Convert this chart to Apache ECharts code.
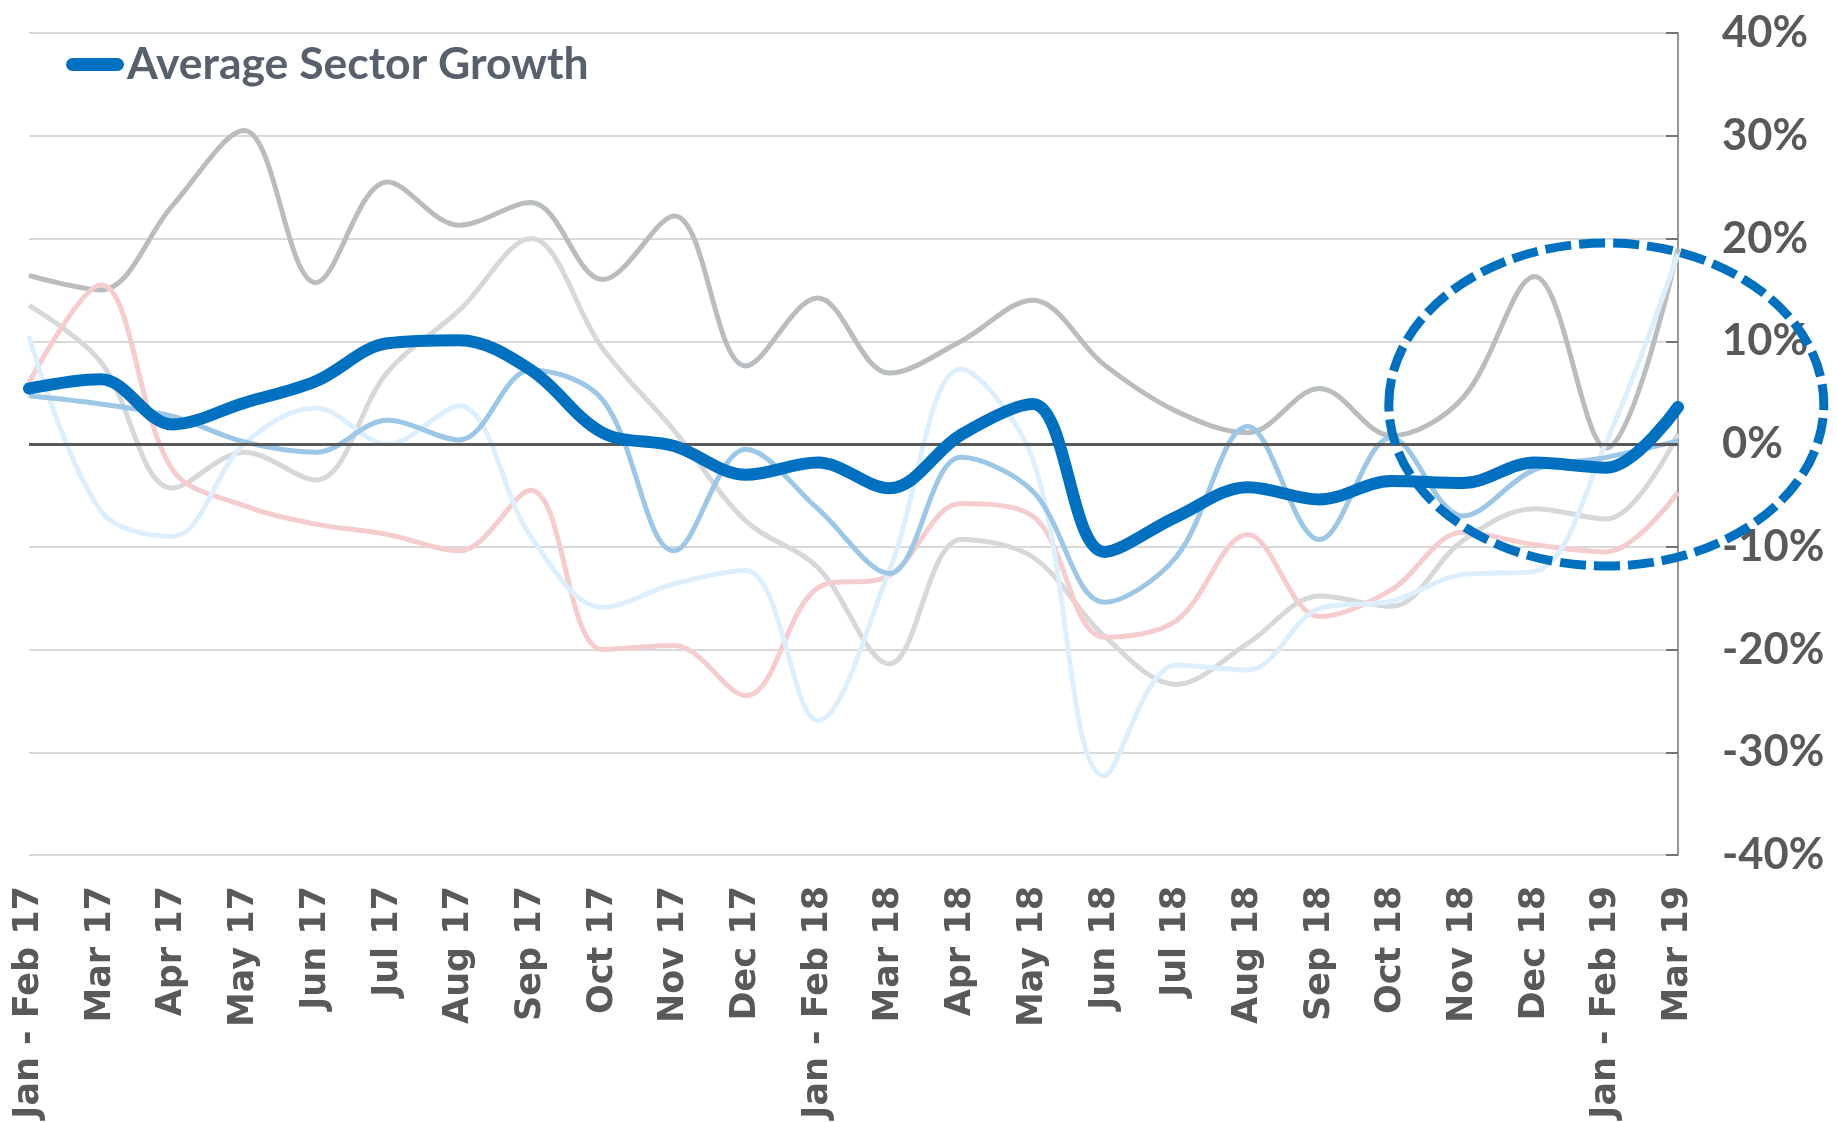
<!DOCTYPE html>
<html>
<head>
<meta charset="utf-8">
<script src="https://cdn.jsdelivr.net/npm/echarts@6/dist/echarts.min.js"></script>
<style>
  html, body { margin: 0; padding: 0; background: #fff; }
  #chart { width: 1837px; height: 1122px; }
</style>
</head>
<body>
<div id="chart"></div>
<script>
var months = ['Jan - Feb 17', 'Mar 17', 'Apr 17', 'May 17', 'Jun 17', 'Jul 17', 'Aug 17', 'Sep 17',
  'Oct 17', 'Nov 17', 'Dec 17', 'Jan - Feb 18', 'Mar 18', 'Apr 18', 'May 18', 'Jun 18', 'Jul 18',
  'Aug 18', 'Sep 18', 'Oct 18', 'Nov 18', 'Dec 18', 'Jan - Feb 19', 'Mar 19'];

// growth in %
var avgGrowth = [5.4, 6.3, 1.9, 4.0, 6.1, 9.8, 10.1, 7.2, 1.1, -0.2, -3.0, -1.8, -4.3, 0.9, 3.9,
  -10.5, -7.1, -4.2, -5.4, -3.6, -3.8, -1.8, -2.3, 3.6];
var sectorDarkGrey = [16.4, 15.0, 23.2, 30.5, 15.7, 25.5, 21.3, 23.5, 16.0, 22.2, 7.6, 14.2, 6.9,
  10.0, 14.0, 7.7, 3.2, 1.1, 5.4, 0.8, 4.5, 16.3, -0.4, 19.0];
var sectorLightGrey = [13.5, 8.0, -4.3, -0.8, -3.5, 7.0, 13.0, 20.0, 9.3, 1.3, -7.5, -12.0, -21.4,
  -9.3, -11.0, -18.7, -23.4, -19.4, -14.8, -15.8, -9.4, -6.3, -7.3, 1.0];
var sectorPink = [6.0, 15.5, -2.5, -6.0, -7.8, -8.8, -10.4, -4.5, -20.0, -19.6, -24.5, -14.0, -12.8,
  -5.8, -7.0, -18.8, -17.2, -8.8, -16.8, -14.2, -8.6, -9.8, -10.5, -4.7];
var sectorPaleBlue = [10.5, -6.5, -9.0, 0.0, 3.5, 0.0, 3.7, -9.0, -15.9, -13.6, -12.3, -26.9, -12.3,
  7.3, -1.5, -32.3, -21.5, -22.0, -16.0, -15.3, -12.7, -12.4, 0.2, 18.5];
var sectorMidBlue = [4.7, 3.9, 2.7, 0.2, -0.8, 2.3, 0.4, 7.2, 4.3, -10.4, -0.5, -6.3, -12.6, -1.3,
  -4.6, -15.4, -11.0, 1.7, -9.3, 0.6, -7.0, -2.5, -1.3, 0.3];

var chart = echarts.init(document.getElementById('chart'));

function thinLine(name, data, color) {
  return {
    name: name,
    type: 'line',
    data: data,
    smooth: 0.35,
    showSymbol: false,
    silent: true,
    lineStyle: { color: color, width: 5 },
    itemStyle: { color: color }
  };
}

var series = [
  thinLine('Sector 1', sectorDarkGrey, '#babdbf'),
  thinLine('Sector 2', sectorLightGrey, '#d6d8da'),
  thinLine('Sector 3', sectorPink, '#f6cdcf'),
  thinLine('Sector 4', sectorPaleBlue, '#ddeffd'),
  thinLine('Sector 5', sectorMidBlue, '#9cc7e7'),
  {
    name: 'Average Sector Growth',
    type: 'line',
    data: avgGrowth,
    smooth: 0.35,
    showSymbol: false,
    z: 5,
    lineStyle: { color: '#0070c0', width: 12, cap: 'round', join: 'round' },
    itemStyle: { color: '#0070c0' }
  }
];

// dark zero line
series[0].markLine = {
  silent: true,
  symbol: 'none',
  label: { show: false },
  lineStyle: { color: '#595959', width: 3, type: 'solid' },
  data: [{ yAxis: 0 }]
};

chart.setOption({
  animation: false,
  backgroundColor: '#ffffff',
  grid: { left: 29, right: 159, top: 33, bottom: 267, outerBoundsMode: 'none' },
  legend: {
    data: ['Average Sector Growth'],
    left: 66,
    top: 42,
    padding: 0,
    itemWidth: 58,
    itemHeight: 13,
    icon: 'path://M6.5,0H51.5A6.5,6.5 0 0 1 51.5,13H6.5A6.5,6.5 0 0 1 6.5,0Z',
    textStyle: {
      color: '#58616b',
      fontSize: 44.5,
      fontWeight: 'bold',
      fontFamily: 'Lato, sans-serif',
      padding: [0, 0, 0, -2]
    }
  },
  xAxis: {
    type: 'category',
    data: months,
    boundaryGap: false,
    axisLine: { show: false },
    axisTick: { show: false },
    splitLine: { show: false },
    axisLabel: {
      rotate: 90,
      margin: 31,
      interval: 0,
      color: '#595959',
      fontSize: 35,
      fontWeight: 'bold',
      fontFamily: '"DejaVu Sans", sans-serif'
    }
  },
  yAxis: {
    type: 'value',
    position: 'right',
    min: -40,
    max: 40,
    interval: 10,
    axisLine: { show: true, lineStyle: { color: '#737373', width: 1.5 } },
    axisTick: { show: true, inside: true, length: 12, lineStyle: { color: '#737373', width: 2 } },
    splitLine: { lineStyle: { color: '#d9d9d9', width: 2 } },
    axisLabel: {
      formatter: '{value}%',
      margin: 44,
      color: '#595959',
      fontSize: 43.5,
      fontWeight: 'bold',
      fontFamily: 'Lato, sans-serif'
    }
  },
  series: series
});

// dashed ellipse highlighting the latest months
var centre = chart.convertToPixel({ gridIndex: 0 }, [22.135, 3.84]);
chart.setOption({
  graphic: [{
    type: 'ellipse',
    silent: true,
    z: 10,
    shape: { cx: centre[0], cy: centre[1], rx: 217.5, ry: 161.5 },
    style: { fill: null, stroke: '#0070c0', lineWidth: 9, lineDash: [26, 8] }
  }]
});
</script>
</body>
</html>
